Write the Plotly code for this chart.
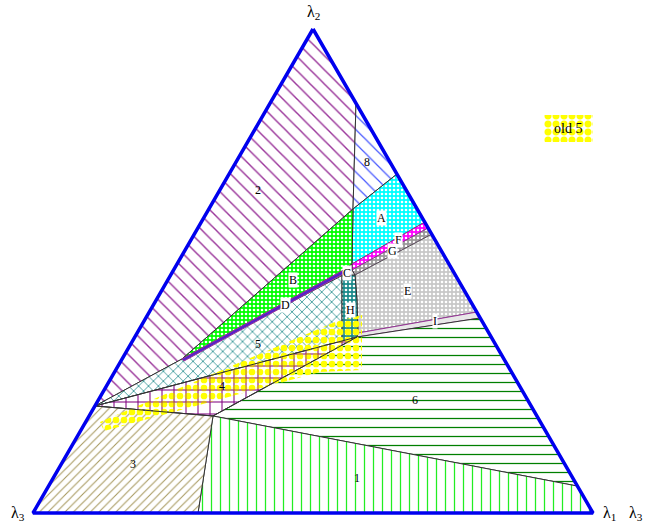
import plotly.graph_objects as go

# ---- key vertices (x, y in picture units, y grows downward) ----
APEX = (313, 29)          # lambda2
CORNER_L = (33, 513)      # lambda3
CORNER_R = (593, 513)     # lambda1
P_LEFT = (95, 406)
TIP = (182, 359)
Q = (213, 416)
R = (357, 337)
V_TOP = (356, 103)
V_A = (353, 209)
V_F = (352, 264)
A_R = (397, 174)
F_R = (425, 222)
FG_L = (352, 270)
FG_R = (428, 228)
GE_L = (355, 275)
GE_R = (432, 234)
C_L = (342, 271)
H_TL = (342, 275)
H_BL = (342, 341)
E_BL = (358, 333)
E_R = (477, 312)
I_R = (480, 318)
S16_R = (577, 486)
B13 = (198, 513)

# ---- regions (lists of vertices) ----
REG_2 = [APEX, V_TOP, V_A, TIP, P_LEFT]
REG_8 = [V_TOP, A_R, V_A]
REG_A = [V_A, A_R, F_R, V_F]
REG_B = [V_A, TIP, C_L, V_F]
REG_D = [TIP, C_L, (343, 274), (184, 361)]
REG_F = [V_F, F_R, FG_R, FG_L]
REG_G = [FG_L, FG_R, GE_R, GE_L]
REG_C = [C_L, V_F, FG_L, GE_L, H_TL]
REG_E = [GE_L, GE_R, E_R, E_BL, (357, 300)]
REG_I = [E_BL, E_R, I_R, R]
REG_H = [H_TL, GE_L, (357, 300), E_BL, R, H_BL]
REG_5 = [P_LEFT, TIP, (343, 275), H_TL, H_BL]
REG_4 = [P_LEFT, R, Q]
REG_6 = [Q, R, I_R, S16_R]
REG_1 = [Q, S16_R, CORNER_R, B13]
REG_3 = [P_LEFT, Q, B13, CORNER_L]
REG_OLD5 = [(100, 422), (335, 322), (362, 315), (362, 370), (320, 372), (104, 431)]
LEGEND_OLD5 = [(544, 115), (593, 115), (593, 142), (544, 142)]

# ---- labels ----
LABEL_TEXT = ["2", "8", "A", "F", "G", "B", "C", "D", "E", "H", "I", "5", "4", "6", "1", "3"]
LABEL_X = [258, 367, 381, 398, 392, 293, 347, 285, 407, 350, 435, 258, 222, 415, 357, 133]
LABEL_Y = [190, 162, 218, 240, 251, 280, 273, 305, 291, 310, 321, 344, 386, 400, 478, 464]
LABEL_BOX = [False, False, True, True, True, True, True, True, True, True, True, False, False, False, False, False]

VERTEX_TEXT = ["λ<sub>2</sub>", "λ<sub>3</sub>", "λ<sub>1</sub>", "λ<sub>3</sub>"]
VERTEX_X = [313, 18, 609, 636]
VERTEX_Y = [12, 513, 513, 513]

fig = go.Figure()


def poly(pts, shape, fg, bg="white", size=10, solidity=0.12, line="black", lw=1, opacity=1.0):
    xs = [p[0] for p in pts] + [pts[0][0]]
    ys = [p[1] for p in pts] + [pts[0][1]]
    fp = dict(shape=shape, fgcolor=fg, bgcolor=bg, size=size, solidity=solidity, fillmode="replace")
    fig.add_trace(go.Scatter(
        x=xs, y=ys, mode="lines", fill="toself",
        fillcolor=bg,
        fillpattern=fp if shape else None,
        line=dict(color=line, width=lw),
        opacity=opacity, hoverinfo="skip", showlegend=False))


poly(REG_2, "\\", "#993399", size=10, solidity=0.14, line="#333333")
poly(REG_8, "\\", "#4455ff", size=10, solidity=0.12, line="#333333")
poly(REG_A, ".", "white", bg="#00ffff", size=4, solidity=0.35, line="#333333")
poly(REG_B, ".", "white", bg="#00ff00", size=4, solidity=0.35, line="#333333")
poly(REG_F, ".", "white", bg="#ff00ff", size=4, solidity=0.3, line="#993399")
poly(REG_G, ".", "white", bg="#999999", size=4, solidity=0.3, line="#993399")
poly(REG_E, ".", "white", bg="#c8c8c8", size=4, solidity=0.35, line="#555555")
poly(REG_I, "", "#ffffff", bg="#e8e8e8", line="#993399")
poly(REG_5, "x", "#2a9090", size=7, solidity=0.22, line="#333333")
poly(REG_H, ".", "white", bg="#1a8a8a", size=4, solidity=0.35, line="#333333")
poly(REG_C, "", "#ffffff", bg="#dddddd", line="#333333")
poly(REG_D, "", "#ffffff", bg="#5522cc", line="#993399", lw=1)
poly(REG_4, "+", "#800080", size=12, solidity=0.1, line="#333333")
poly(REG_6, "-", "#008000", size=9, solidity=0.14, line="#333333")
poly(REG_1, "|", "#22ee22", size=9, solidity=0.14, line="#333333")
poly(REG_3, "/", "#a89a60", size=6, solidity=0.18, line="#333333")
poly(REG_OLD5, ".", "#ffff00", bg="rgba(0,0,0,0)", size=8, solidity=0.55, line="rgba(0,0,0,0)", lw=0)
# re-draw region 4 grid lines over the dots
poly(REG_4, "+", "#800080", bg="rgba(0,0,0,0)", size=12, solidity=0.1, line="#333333")
poly(LEGEND_OLD5, ".", "#ffff00", bg="white", size=8, solidity=0.6, line="rgba(0,0,0,0)", lw=0)

# triangle outline
tri = [APEX, CORNER_R, CORNER_L, APEX]
fig.add_trace(go.Scatter(x=[p[0] for p in tri], y=[p[1] for p in tri], mode="lines",
                         line=dict(color="#0000ee", width=3.5), hoverinfo="skip", showlegend=False))

for t, x, y, box in zip(LABEL_TEXT, LABEL_X, LABEL_Y, LABEL_BOX):
    fig.add_annotation(x=x, y=y, text=t, showarrow=False,
                       font=dict(family="Liberation Serif", size=12, color="black"),
                       bgcolor="white" if box else None, borderpad=0)

for t, x, y in zip(VERTEX_TEXT, VERTEX_X, VERTEX_Y):
    fig.add_annotation(x=x, y=y, text=t, showarrow=False,
                       font=dict(family="Liberation Serif", size=16, color="black"))

fig.add_annotation(x=568, y=128, text="old 5", showarrow=False,
                   font=dict(family="Liberation Serif", size=14, color="black"))

fig.update_xaxes(range=[0, 646], visible=False, fixedrange=True)
fig.update_yaxes(range=[524, 0], visible=False, fixedrange=True)
fig.update_layout(width=646, height=524, margin=dict(l=0, r=0, t=0, b=0),
                  plot_bgcolor="white", paper_bgcolor="white")

fig.write_html("out.html", config={"displayModeBar": False},
               post_script="document.body.style.margin='0';document.body.style.overflow='hidden';")
